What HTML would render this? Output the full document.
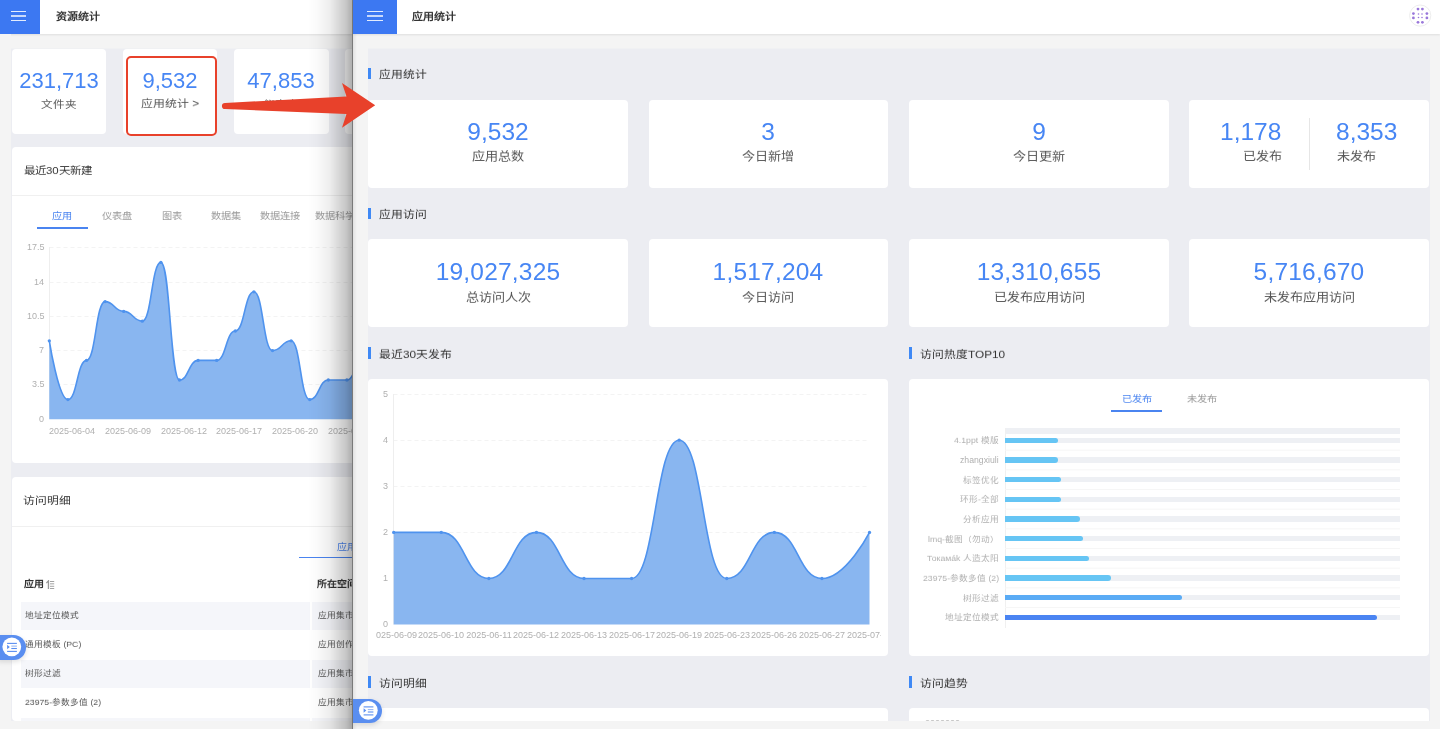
<!DOCTYPE html><html lang="zh-CN"><head><meta charset="utf-8"><style>
*{margin:0;padding:0;box-sizing:border-box}
html,body{width:1440px;height:729px;overflow:hidden;background:#f4f4f4;font-family:"Liberation Sans", sans-serif;}
.t{position:absolute;white-space:nowrap;will-change:transform;}
.r{position:absolute;}
.card{position:absolute;background:#fff;border-radius:4px;}
svg{position:absolute;left:0;top:0;}
</style></head><body>
<div class="r" style="left:0px;top:0px;width:353px;height:34px;background:#fff;box-shadow:0 1px 2px rgba(0,0,0,0.09);"></div>
<div class="r" style="left:0px;top:0px;width:40px;height:34px;background:#3c78f2;"></div>
<div class="r" style="left:10.9px;top:10.75px;width:15.200000000000001px;height:1.5px;background:rgba(255,255,255,0.86);"></div>
<div class="r" style="left:10.9px;top:15.15px;width:15.200000000000001px;height:1.4999999999999982px;background:rgba(255,255,255,0.72);"></div>
<div class="r" style="left:10.9px;top:19.55px;width:15.200000000000001px;height:1.5px;background:rgba(255,255,255,0.86);"></div>
<div class="t" style="top:11.09px;font-size:11.0px;line-height:11.0px;color:#333;transform:scaleY(0.88);transform-origin:0 9.31px;font-weight:bold;left:55.50px;">资源统计</div>
<div class="r" style="left:11px;top:49px;width:342px;height:672px;background:#ecedf2;"></div>
<div class="r" style="left:11px;top:48px;width:342px;height:1px;background:#f0f1f3;"></div>
<div class="card" style="left:12px;top:49px;width:94px;height:85px;"></div>
<div class="card" style="left:123px;top:49px;width:94px;height:85px;"></div>
<div class="card" style="left:234px;top:49px;width:95px;height:85px;"></div>
<div class="card" style="left:345px;top:49px;width:95px;height:85px;"></div>
<div class="t" style="top:69.68px;font-size:22.0px;line-height:22.0px;color:#4786f4;left:-241.00px;width:600px;text-align:center;">231,713</div>
<div class="t" style="top:98.48px;font-size:11.6px;line-height:11.6px;color:#555;transform:scaleY(0.88);transform-origin:50% 9.82px;left:-241.00px;width:600px;text-align:center;">文件夹</div>
<div class="t" style="top:69.68px;font-size:22.0px;line-height:22.0px;color:#4786f4;left:-130.00px;width:600px;text-align:center;">9,532</div>
<div class="t" style="top:98.23px;font-size:11.9px;line-height:11.9px;color:#555;transform:scaleY(0.88);transform-origin:50% 10.07px;left:-130.00px;width:600px;text-align:center;">应用统计 &gt;</div>
<div class="t" style="top:69.68px;font-size:22.0px;line-height:22.0px;color:#4786f4;left:-19.00px;width:600px;text-align:center;">47,853</div>
<div class="t" style="top:98.48px;font-size:11.6px;line-height:11.6px;color:#555;transform:scaleY(0.88);transform-origin:50% 9.82px;left:-19.00px;width:600px;text-align:center;">仪表盘</div>
<div class="t" style="top:69.68px;font-size:22.0px;line-height:22.0px;color:#4786f4;left:92.00px;width:600px;text-align:center;">12,345</div>
<div class="card" style="left:12px;top:146.5px;width:400px;height:316.5px;"></div>
<div class="t" style="top:165.11px;font-size:11.45px;line-height:11.45px;color:#333;transform:scaleY(0.88);transform-origin:0 9.69px;left:23.50px;">最近30天新建</div>
<div class="r" style="left:12px;top:195px;width:341px;height:1px;background:#f0f0f0;"></div>
<div class="t" style="top:210.87px;font-size:10.2px;line-height:10.2px;color:#4a84f0;transform:scaleY(0.88);transform-origin:0 8.63px;left:52.00px;">应用</div>
<div class="t" style="top:210.87px;font-size:10.2px;line-height:10.2px;color:#999;transform:scaleY(0.88);transform-origin:0 8.63px;left:102.00px;">仪表盘</div>
<div class="t" style="top:210.87px;font-size:10.2px;line-height:10.2px;color:#999;transform:scaleY(0.88);transform-origin:0 8.63px;left:161.70px;">图表</div>
<div class="t" style="top:210.87px;font-size:10.2px;line-height:10.2px;color:#999;transform:scaleY(0.88);transform-origin:0 8.63px;left:211.00px;">数据集</div>
<div class="t" style="top:210.87px;font-size:10.2px;line-height:10.2px;color:#999;transform:scaleY(0.88);transform-origin:0 8.63px;left:260.40px;">数据连接</div>
<div class="t" style="top:210.87px;font-size:10.2px;line-height:10.2px;color:#999;transform:scaleY(0.88);transform-origin:0 8.63px;left:314.80px;">数据科学</div>
<div class="r" style="left:37px;top:226.5px;width:51px;height:2.0px;background:#4a84f0;"></div>
<svg width="1440" height="729" style="left:0;top:0"><line x1="49.5" y1="384.5" x2="400" y2="384.5" stroke="#f3f3f3" stroke-width="1" stroke-dasharray="4,3"/><line x1="49.5" y1="350.5" x2="400" y2="350.5" stroke="#f3f3f3" stroke-width="1" stroke-dasharray="4,3"/><line x1="49.5" y1="316.5" x2="400" y2="316.5" stroke="#f3f3f3" stroke-width="1" stroke-dasharray="4,3"/><line x1="49.5" y1="282.5" x2="400" y2="282.5" stroke="#f3f3f3" stroke-width="1" stroke-dasharray="4,3"/><line x1="49.5" y1="247.5" x2="400" y2="247.5" stroke="#f3f3f3" stroke-width="1" stroke-dasharray="4,3"/><line x1="49.5" y1="247" x2="49.5" y2="419.2" stroke="#eeeeee" stroke-width="1"/><path d="M49.30,340.80 C49.30,340.80 58.60,399.60 67.90,399.60 C77.20,399.60 77.20,360.40 86.50,360.40 C95.80,360.40 95.80,301.60 105.10,301.60 C114.40,301.60 114.40,311.40 123.70,311.40 C133.00,311.40 133.00,321.20 142.30,321.20 C151.60,321.20 151.60,262.40 160.90,262.40 C170.20,262.40 170.20,380.00 179.50,380.00 C188.80,380.00 188.80,360.40 198.10,360.40 C207.40,360.40 207.40,360.40 216.70,360.40 C226.00,360.40 226.00,331.00 235.30,331.00 C244.60,331.00 244.60,291.80 253.90,291.80 C263.20,291.80 263.20,350.60 272.50,350.60 C281.80,350.60 281.80,340.80 291.10,340.80 C300.40,340.80 300.40,399.60 309.70,399.60 C319.00,399.60 319.00,380.00 328.30,380.00 C337.60,380.00 337.60,380.00 346.90,380.00 C356.20,380.00 356.20,350.60 365.50,350.60 C374.80,350.60 384.10,370.20 384.10,370.20 L384.10,419.20 L49.30,419.20 Z" fill="#89b6f0"/><path d="M49.30,340.80 C49.30,340.80 58.60,399.60 67.90,399.60 C77.20,399.60 77.20,360.40 86.50,360.40 C95.80,360.40 95.80,301.60 105.10,301.60 C114.40,301.60 114.40,311.40 123.70,311.40 C133.00,311.40 133.00,321.20 142.30,321.20 C151.60,321.20 151.60,262.40 160.90,262.40 C170.20,262.40 170.20,380.00 179.50,380.00 C188.80,380.00 188.80,360.40 198.10,360.40 C207.40,360.40 207.40,360.40 216.70,360.40 C226.00,360.40 226.00,331.00 235.30,331.00 C244.60,331.00 244.60,291.80 253.90,291.80 C263.20,291.80 263.20,350.60 272.50,350.60 C281.80,350.60 281.80,340.80 291.10,340.80 C300.40,340.80 300.40,399.60 309.70,399.60 C319.00,399.60 319.00,380.00 328.30,380.00 C337.60,380.00 337.60,380.00 346.90,380.00 C356.20,380.00 356.20,350.60 365.50,350.60 C374.80,350.60 384.10,370.20 384.10,370.20" fill="none" stroke="#4f93ee" stroke-width="1.6"/><circle cx="49.30" cy="340.80" r="1.65" fill="#4f93ee"/><circle cx="67.90" cy="399.60" r="1.65" fill="#4f93ee"/><circle cx="86.50" cy="360.40" r="1.65" fill="#4f93ee"/><circle cx="105.10" cy="301.60" r="1.65" fill="#4f93ee"/><circle cx="123.70" cy="311.40" r="1.65" fill="#4f93ee"/><circle cx="142.30" cy="321.20" r="1.65" fill="#4f93ee"/><circle cx="160.90" cy="262.40" r="1.65" fill="#4f93ee"/><circle cx="179.50" cy="380.00" r="1.65" fill="#4f93ee"/><circle cx="198.10" cy="360.40" r="1.65" fill="#4f93ee"/><circle cx="216.70" cy="360.40" r="1.65" fill="#4f93ee"/><circle cx="235.30" cy="331.00" r="1.65" fill="#4f93ee"/><circle cx="253.90" cy="291.80" r="1.65" fill="#4f93ee"/><circle cx="272.50" cy="350.60" r="1.65" fill="#4f93ee"/><circle cx="291.10" cy="340.80" r="1.65" fill="#4f93ee"/><circle cx="309.70" cy="399.60" r="1.65" fill="#4f93ee"/><circle cx="328.30" cy="380.00" r="1.65" fill="#4f93ee"/><circle cx="346.90" cy="380.00" r="1.65" fill="#4f93ee"/><circle cx="365.50" cy="350.60" r="1.65" fill="#4f93ee"/><circle cx="384.10" cy="370.20" r="1.65" fill="#4f93ee"/></svg>
<div class="t" style="top:243.28px;font-size:9.0px;line-height:9.0px;color:#b0b0b0;right:1395.50px;text-align:right;">17.5</div>
<div class="t" style="top:277.58px;font-size:9.0px;line-height:9.0px;color:#b0b0b0;right:1395.50px;text-align:right;">14</div>
<div class="t" style="top:311.88px;font-size:9.0px;line-height:9.0px;color:#b0b0b0;right:1395.50px;text-align:right;">10.5</div>
<div class="t" style="top:346.18px;font-size:9.0px;line-height:9.0px;color:#b0b0b0;right:1395.50px;text-align:right;">7</div>
<div class="t" style="top:380.48px;font-size:9.0px;line-height:9.0px;color:#b0b0b0;right:1395.50px;text-align:right;">3.5</div>
<div class="t" style="top:414.78px;font-size:9.0px;line-height:9.0px;color:#b0b0b0;right:1395.50px;text-align:right;">0</div>
<div class="t" style="top:426.58px;font-size:9.0px;line-height:9.0px;color:#b0b0b0;left:49.00px;">2025-06-04</div>
<div class="t" style="top:426.58px;font-size:9.0px;line-height:9.0px;color:#b0b0b0;left:104.80px;">2025-06-09</div>
<div class="t" style="top:426.58px;font-size:9.0px;line-height:9.0px;color:#b0b0b0;left:160.60px;">2025-06-12</div>
<div class="t" style="top:426.58px;font-size:9.0px;line-height:9.0px;color:#b0b0b0;left:216.40px;">2025-06-17</div>
<div class="t" style="top:426.58px;font-size:9.0px;line-height:9.0px;color:#b0b0b0;left:272.20px;">2025-06-20</div>
<div class="t" style="top:426.58px;font-size:9.0px;line-height:9.0px;color:#b0b0b0;left:328.00px;">2025-06-23</div>
<div class="card" style="left:12px;top:477px;width:400px;height:244px;"></div>
<div class="t" style="top:495.11px;font-size:11.8px;line-height:11.8px;color:#333;transform:scaleY(0.88);transform-origin:0 9.99px;left:23.40px;">访问明细</div>
<div class="r" style="left:12px;top:525.5px;width:341px;height:1.0px;background:#f0f0f0;"></div>
<div class="t" style="top:541.53px;font-size:10.0px;line-height:10.0px;color:#4a84f0;transform:scaleY(0.88);transform-origin:0 8.46px;left:337.00px;">应用</div>
<div class="r" style="left:299px;top:556.5px;width:54px;height:1.5px;background:#4a84f0;"></div>
<div class="t" style="top:578.83px;font-size:10.0px;line-height:10.0px;color:#333;transform:scaleY(0.88);transform-origin:0 8.46px;font-weight:bold;left:24.00px;">应用</div>
<div class="t" style="top:578.83px;font-size:10.0px;line-height:10.0px;color:#333;transform:scaleY(0.88);transform-origin:0 8.46px;font-weight:bold;left:317.00px;">所在空间</div>
<svg width="1440" height="729"><g fill="#999"><path d="M46,582.6 L48.4,580 L49.1,580 L49.1,589 L47.8,589 L47.8,582.4 L46.6,583.6 Z"/><rect x="50" y="581" width="4.2" height="0.9"/><rect x="50" y="583.4" width="4.2" height="0.9"/><rect x="50" y="585.8" width="4.2" height="0.9"/><rect x="50" y="588.1" width="4.2" height="0.9"/></g></svg>
<div class="r" style="left:21px;top:602px;width:289.4px;height:28px;background:#f5f6fa;"></div>
<div class="r" style="left:311.8px;top:602px;width:41.19999999999999px;height:28px;background:#f5f6fa;"></div>
<div class="r" style="left:21px;top:660px;width:289.4px;height:28px;background:#f5f6fa;"></div>
<div class="r" style="left:311.8px;top:660px;width:41.19999999999999px;height:28px;background:#f5f6fa;"></div>
<div class="r" style="left:21px;top:718px;width:289.4px;height:28px;background:#f5f6fa;"></div>
<div class="r" style="left:311.8px;top:718px;width:41.19999999999999px;height:28px;background:#f5f6fa;"></div>
<div class="t" style="top:611.14px;font-size:8.7px;line-height:8.7px;color:#555;transform:scaleY(0.88);transform-origin:0 7.36px;left:25.00px;">地址定位模式</div>
<div class="t" style="top:611.14px;font-size:8.7px;line-height:8.7px;color:#555;transform:scaleY(0.88);transform-origin:0 7.36px;left:317.50px;">应用集市</div>
<div class="t" style="top:640.14px;font-size:8.7px;line-height:8.7px;color:#555;transform:scaleY(0.88);transform-origin:0 7.36px;left:25.00px;">通用模板 (PC)</div>
<div class="t" style="top:640.14px;font-size:8.7px;line-height:8.7px;color:#555;transform:scaleY(0.88);transform-origin:0 7.36px;left:317.50px;">应用创作</div>
<div class="t" style="top:669.14px;font-size:8.7px;line-height:8.7px;color:#555;transform:scaleY(0.88);transform-origin:0 7.36px;left:25.00px;">树形过滤</div>
<div class="t" style="top:669.14px;font-size:8.7px;line-height:8.7px;color:#555;transform:scaleY(0.88);transform-origin:0 7.36px;left:317.50px;">应用集市</div>
<div class="t" style="top:698.14px;font-size:8.7px;line-height:8.7px;color:#555;transform:scaleY(0.88);transform-origin:0 7.36px;left:25.00px;">23975-参数多值 (2)</div>
<div class="t" style="top:698.14px;font-size:8.7px;line-height:8.7px;color:#555;transform:scaleY(0.88);transform-origin:0 7.36px;left:317.50px;">应用集市</div>
<div class="r" style="left:0px;top:721px;width:353px;height:8px;background:#f4f4f4;"></div>
<div class="r" style="left:0px;top:34px;width:11px;height:695px;background:#f4f4f4;"></div>
<div class="r" style="left:300px;top:0;width:52px;height:729px;background:linear-gradient(to right,rgba(0,0,0,0) 0.0%,rgba(0,0,0,0.0) 15.4%,rgba(0,0,0,0.018) 34.6%,rgba(0,0,0,0.072) 57.7%,rgba(0,0,0,0.165) 76.9%,rgba(0,0,0,0.22) 88.5%,rgba(0,0,0,0.285) 96.2%,rgba(0,0,0,0.31) 100.0%);"></div>
<div class="r" style="left:352px;top:0px;width:1px;height:729px;background:#7a7a7a;"></div>
<div class="r" style="left:353px;top:0px;width:1087px;height:729px;background:#f4f4f4;"></div>
<div class="r" style="left:353px;top:0px;width:1087px;height:34px;background:#fff;box-shadow:0 1px 2px rgba(0,0,0,0.09);"></div>
<div class="r" style="left:353px;top:0px;width:44px;height:34px;background:#3c78f2;"></div>
<div class="r" style="left:367.1px;top:10.75px;width:15.799999999999955px;height:1.5px;background:rgba(255,255,255,0.86);"></div>
<div class="r" style="left:367.1px;top:15.15px;width:15.799999999999955px;height:1.4999999999999982px;background:rgba(255,255,255,0.72);"></div>
<div class="r" style="left:367.1px;top:19.55px;width:15.799999999999955px;height:1.5px;background:rgba(255,255,255,0.86);"></div>
<div class="t" style="top:11.09px;font-size:11.0px;line-height:11.0px;color:#333;transform:scaleY(0.88);transform-origin:0 9.31px;font-weight:bold;left:411.50px;">应用统计</div>
<div class="r" style="left:368px;top:49px;width:1061.5px;height:672px;background:#ecedf2;"></div>
<div class="r" style="left:368px;top:48px;width:1061.5px;height:1px;background:#f0f1f3;"></div>
<div class="r" style="left:368px;top:67.6px;width:3px;height:11.400000000000006px;background:#3f89f5;"></div>
<div class="t" style="top:68.81px;font-size:11.8px;line-height:11.8px;color:#333;transform:scaleY(0.92);transform-origin:0 9.99px;left:379.30px;">应用统计</div>
<div class="r" style="left:368px;top:207.60000000000002px;width:3px;height:11.399999999999977px;background:#3f89f5;"></div>
<div class="t" style="top:208.81px;font-size:11.8px;line-height:11.8px;color:#333;transform:scaleY(0.92);transform-origin:0 9.99px;left:379.30px;">应用访问</div>
<div class="r" style="left:368px;top:347.3px;width:3px;height:11.399999999999977px;background:#3f89f5;"></div>
<div class="t" style="top:348.51px;font-size:11.8px;line-height:11.8px;color:#333;transform:scaleY(0.92);transform-origin:0 9.99px;left:379.30px;">最近30天发布</div>
<div class="r" style="left:909px;top:347.3px;width:3px;height:11.399999999999977px;background:#3f89f5;"></div>
<div class="t" style="top:348.51px;font-size:11.8px;line-height:11.8px;color:#333;transform:scaleY(0.92);transform-origin:0 9.99px;left:920.30px;">访问热度TOP10</div>
<div class="r" style="left:368px;top:676.3px;width:3px;height:11.400000000000091px;background:#3f89f5;"></div>
<div class="t" style="top:677.51px;font-size:11.8px;line-height:11.8px;color:#333;transform:scaleY(0.92);transform-origin:0 9.99px;left:379.30px;">访问明细</div>
<div class="r" style="left:909px;top:676.3px;width:3px;height:11.400000000000091px;background:#3f89f5;"></div>
<div class="t" style="top:677.51px;font-size:11.8px;line-height:11.8px;color:#333;transform:scaleY(0.92);transform-origin:0 9.99px;left:920.30px;">访问趋势</div>
<div class="card" style="left:368px;top:99.5px;width:259.5px;height:88px;"></div>
<div class="t" style="top:120.26px;font-size:24.5px;line-height:24.5px;color:#4786f4;letter-spacing:0px;left:197.75px;width:600px;text-align:center;">9,532</div>
<div class="t" style="top:149.41px;font-size:13.1px;line-height:13.1px;color:#555;transform:scaleY(0.84);transform-origin:50% 11.09px;left:197.75px;width:600px;text-align:center;">应用总数</div>
<div class="card" style="left:648.5px;top:99.5px;width:239.5px;height:88px;"></div>
<div class="t" style="top:120.26px;font-size:24.5px;line-height:24.5px;color:#4786f4;letter-spacing:0px;left:468.25px;width:600px;text-align:center;">3</div>
<div class="t" style="top:149.41px;font-size:13.1px;line-height:13.1px;color:#555;transform:scaleY(0.84);transform-origin:50% 11.09px;left:468.25px;width:600px;text-align:center;">今日新增</div>
<div class="card" style="left:909px;top:99.5px;width:259.5px;height:88px;"></div>
<div class="t" style="top:120.26px;font-size:24.5px;line-height:24.5px;color:#4786f4;letter-spacing:0px;left:738.75px;width:600px;text-align:center;">9</div>
<div class="t" style="top:149.41px;font-size:13.1px;line-height:13.1px;color:#555;transform:scaleY(0.84);transform-origin:50% 11.09px;left:738.75px;width:600px;text-align:center;">今日更新</div>
<div class="card" style="left:1189px;top:99.5px;width:240px;height:88px;"></div>
<div class="t" style="top:120.26px;font-size:24.5px;line-height:24.5px;color:#4786f4;right:159.00px;text-align:right;">1,178</div>
<div class="t" style="top:149.41px;font-size:13.1px;line-height:13.1px;color:#555;transform:scaleY(0.84);transform-origin:100% 11.09px;right:158.50px;text-align:right;">已发布</div>
<div class="t" style="top:120.26px;font-size:24.5px;line-height:24.5px;color:#4786f4;left:1336.40px;">8,353</div>
<div class="t" style="top:149.41px;font-size:13.1px;line-height:13.1px;color:#555;transform:scaleY(0.84);transform-origin:0 11.09px;left:1336.90px;">未发布</div>
<div class="r" style="left:1309px;top:118.4px;width:1px;height:52.099999999999994px;background:#e6e6e6;"></div>
<div class="card" style="left:368px;top:239px;width:259.5px;height:88px;"></div>
<div class="t" style="top:259.76px;font-size:24.5px;line-height:24.5px;color:#4786f4;letter-spacing:0.2px;left:197.75px;width:600px;text-align:center;">19,027,325</div>
<div class="t" style="top:290.31px;font-size:13.1px;line-height:13.1px;color:#555;transform:scaleY(0.84);transform-origin:50% 11.09px;left:197.75px;width:600px;text-align:center;">总访问人次</div>
<div class="card" style="left:648.5px;top:239px;width:239.5px;height:88px;"></div>
<div class="t" style="top:259.76px;font-size:24.5px;line-height:24.5px;color:#4786f4;letter-spacing:0.2px;left:468.25px;width:600px;text-align:center;">1,517,204</div>
<div class="t" style="top:290.31px;font-size:13.1px;line-height:13.1px;color:#555;transform:scaleY(0.84);transform-origin:50% 11.09px;left:468.25px;width:600px;text-align:center;">今日访问</div>
<div class="card" style="left:909px;top:239px;width:259.5px;height:88px;"></div>
<div class="t" style="top:259.76px;font-size:24.5px;line-height:24.5px;color:#4786f4;letter-spacing:0.2px;left:738.75px;width:600px;text-align:center;">13,310,655</div>
<div class="t" style="top:290.31px;font-size:13.1px;line-height:13.1px;color:#555;transform:scaleY(0.84);transform-origin:50% 11.09px;left:738.75px;width:600px;text-align:center;">已发布应用访问</div>
<div class="card" style="left:1189px;top:239px;width:240px;height:88px;"></div>
<div class="t" style="top:259.76px;font-size:24.5px;line-height:24.5px;color:#4786f4;letter-spacing:0.2px;left:1009.00px;width:600px;text-align:center;">5,716,670</div>
<div class="t" style="top:290.31px;font-size:13.1px;line-height:13.1px;color:#555;transform:scaleY(0.84);transform-origin:50% 11.09px;left:1009.00px;width:600px;text-align:center;">未发布应用访问</div>
<div class="card" style="left:368px;top:379px;width:520px;height:277px;"></div>
<div class="card" style="left:909px;top:379px;width:520px;height:277px;"></div>
<div class="card" style="left:368px;top:708px;width:520px;height:60px;"></div>
<div class="card" style="left:909px;top:708px;width:520px;height:60px;"></div>
<svg width="1440" height="729"><line x1="393.5" y1="578.5" x2="869.5" y2="578.5" stroke="#f3f3f3" stroke-width="1" stroke-dasharray="4,3"/><line x1="393.5" y1="532.5" x2="869.5" y2="532.5" stroke="#f3f3f3" stroke-width="1" stroke-dasharray="4,3"/><line x1="393.5" y1="486.5" x2="869.5" y2="486.5" stroke="#f3f3f3" stroke-width="1" stroke-dasharray="4,3"/><line x1="393.5" y1="440.5" x2="869.5" y2="440.5" stroke="#f3f3f3" stroke-width="1" stroke-dasharray="4,3"/><line x1="393.5" y1="394.5" x2="869.5" y2="394.5" stroke="#f3f3f3" stroke-width="1" stroke-dasharray="4,3"/><line x1="393.5" y1="394" x2="393.5" y2="624.6" stroke="#eeeeee" stroke-width="1"/><path d="M393.70,532.40 C393.70,532.40 417.49,532.40 441.28,532.40 C465.07,532.40 465.07,578.50 488.86,578.50 C512.65,578.50 512.65,532.40 536.44,532.40 C560.23,532.40 560.23,578.50 584.02,578.50 C607.81,578.50 607.81,578.50 631.60,578.50 C655.39,578.50 655.39,440.20 679.18,440.20 C702.97,440.20 702.97,578.50 726.76,578.50 C750.55,578.50 750.55,532.40 774.34,532.40 C798.13,532.40 798.13,578.50 821.92,578.50 C845.71,578.50 869.50,532.40 869.50,532.40 L869.50,624.60 L393.70,624.60 Z" fill="#89b6f0"/><path d="M393.70,532.40 C393.70,532.40 417.49,532.40 441.28,532.40 C465.07,532.40 465.07,578.50 488.86,578.50 C512.65,578.50 512.65,532.40 536.44,532.40 C560.23,532.40 560.23,578.50 584.02,578.50 C607.81,578.50 607.81,578.50 631.60,578.50 C655.39,578.50 655.39,440.20 679.18,440.20 C702.97,440.20 702.97,578.50 726.76,578.50 C750.55,578.50 750.55,532.40 774.34,532.40 C798.13,532.40 798.13,578.50 821.92,578.50 C845.71,578.50 869.50,532.40 869.50,532.40" fill="none" stroke="#4f93ee" stroke-width="1.6"/><circle cx="393.70" cy="532.40" r="1.65" fill="#4f93ee"/><circle cx="441.28" cy="532.40" r="1.65" fill="#4f93ee"/><circle cx="488.86" cy="578.50" r="1.65" fill="#4f93ee"/><circle cx="536.44" cy="532.40" r="1.65" fill="#4f93ee"/><circle cx="584.02" cy="578.50" r="1.65" fill="#4f93ee"/><circle cx="631.60" cy="578.50" r="1.65" fill="#4f93ee"/><circle cx="679.18" cy="440.20" r="1.65" fill="#4f93ee"/><circle cx="726.76" cy="578.50" r="1.65" fill="#4f93ee"/><circle cx="774.34" cy="532.40" r="1.65" fill="#4f93ee"/><circle cx="821.92" cy="578.50" r="1.65" fill="#4f93ee"/><circle cx="869.50" cy="532.40" r="1.65" fill="#4f93ee"/></svg>
<div class="t" style="top:620.18px;font-size:9.0px;line-height:9.0px;color:#b0b0b0;right:1052.00px;text-align:right;">0</div>
<div class="t" style="top:574.08px;font-size:9.0px;line-height:9.0px;color:#b0b0b0;right:1052.00px;text-align:right;">1</div>
<div class="t" style="top:527.98px;font-size:9.0px;line-height:9.0px;color:#b0b0b0;right:1052.00px;text-align:right;">2</div>
<div class="t" style="top:481.88px;font-size:9.0px;line-height:9.0px;color:#b0b0b0;right:1052.00px;text-align:right;">3</div>
<div class="t" style="top:435.78px;font-size:9.0px;line-height:9.0px;color:#b0b0b0;right:1052.00px;text-align:right;">4</div>
<div class="t" style="top:389.68px;font-size:9.0px;line-height:9.0px;color:#b0b0b0;right:1052.00px;text-align:right;">5</div>
<div class="r" style="left:376px;top:620px;width:505px;height:30px;overflow:hidden;">
<div class="t" style="left:-82.30px;width:200px;text-align:center;top:11.38px;font-size:9px;line-height:9px;color:#b0b0b0;">2025-06-09</div>
<div class="t" style="left:-34.72px;width:200px;text-align:center;top:11.38px;font-size:9px;line-height:9px;color:#b0b0b0;">2025-06-10</div>
<div class="t" style="left:12.86px;width:200px;text-align:center;top:11.38px;font-size:9px;line-height:9px;color:#b0b0b0;">2025-06-11</div>
<div class="t" style="left:60.44px;width:200px;text-align:center;top:11.38px;font-size:9px;line-height:9px;color:#b0b0b0;">2025-06-12</div>
<div class="t" style="left:108.02px;width:200px;text-align:center;top:11.38px;font-size:9px;line-height:9px;color:#b0b0b0;">2025-06-13</div>
<div class="t" style="left:155.60px;width:200px;text-align:center;top:11.38px;font-size:9px;line-height:9px;color:#b0b0b0;">2025-06-17</div>
<div class="t" style="left:203.18px;width:200px;text-align:center;top:11.38px;font-size:9px;line-height:9px;color:#b0b0b0;">2025-06-19</div>
<div class="t" style="left:250.76px;width:200px;text-align:center;top:11.38px;font-size:9px;line-height:9px;color:#b0b0b0;">2025-06-23</div>
<div class="t" style="left:298.34px;width:200px;text-align:center;top:11.38px;font-size:9px;line-height:9px;color:#b0b0b0;">2025-06-26</div>
<div class="t" style="left:345.92px;width:200px;text-align:center;top:11.38px;font-size:9px;line-height:9px;color:#b0b0b0;">2025-06-27</div>
<div class="t" style="left:393.50px;width:200px;text-align:center;top:11.38px;font-size:9px;line-height:9px;color:#b0b0b0;">2025-07-01</div>
</div>
<div class="t" style="top:393.97px;font-size:10.2px;line-height:10.2px;color:#4a84f0;transform:scaleY(0.88);transform-origin:50% 8.63px;left:836.50px;width:600px;text-align:center;">已发布</div>
<div class="t" style="top:393.97px;font-size:10.2px;line-height:10.2px;color:#999;transform:scaleY(0.88);transform-origin:50% 8.63px;left:901.60px;width:600px;text-align:center;">未发布</div>
<div class="r" style="left:1110.8px;top:410px;width:51.200000000000045px;height:2px;background:#4a84f0;"></div>
<div class="r" style="left:1005px;top:428px;width:395px;height:6px;background:#eef0f4;"></div>
<svg width="1440" height="729"><line x1="1005.5" y1="428" x2="1005.5" y2="628" stroke="#f0f0f0" stroke-width="1"/><line x1="1005" y1="450.2" x2="1400" y2="450.2" stroke="#f6f6f6" stroke-width="1"/><line x1="1005" y1="469.9" x2="1400" y2="469.9" stroke="#f6f6f6" stroke-width="1"/><line x1="1005" y1="489.5" x2="1400" y2="489.5" stroke="#f6f6f6" stroke-width="1"/><line x1="1005" y1="509.2" x2="1400" y2="509.2" stroke="#f6f6f6" stroke-width="1"/><line x1="1005" y1="528.9" x2="1400" y2="528.9" stroke="#f6f6f6" stroke-width="1"/><line x1="1005" y1="548.5" x2="1400" y2="548.5" stroke="#f6f6f6" stroke-width="1"/><line x1="1005" y1="568.2" x2="1400" y2="568.2" stroke="#f6f6f6" stroke-width="1"/><line x1="1005" y1="587.9" x2="1400" y2="587.9" stroke="#f6f6f6" stroke-width="1"/><line x1="1005" y1="607.5" x2="1400" y2="607.5" stroke="#f6f6f6" stroke-width="1"/></svg>
<div class="r" style="left:1005px;top:437.75px;width:395px;height:5.300000000000011px;background:#eef0f4;"></div>
<div class="r" style="left:1005px;top:437.75px;width:52.7px;height:5.3px;background:#66c5f4;border-radius:0 3px 3px 0;"></div>
<div class="t" style="top:436.44px;font-size:8.7px;line-height:8.7px;color:#b0b0b0;transform:scaleY(0.88);transform-origin:100% 7.36px;right:441.20px;text-align:right;">4.1ppt 模版</div>
<div class="r" style="left:1005px;top:457.41px;width:395px;height:5.2999999999999545px;background:#eef0f4;"></div>
<div class="r" style="left:1005px;top:457.41px;width:52.7px;height:5.3px;background:#66c5f4;border-radius:0 3px 3px 0;"></div>
<div class="t" style="top:456.10px;font-size:8.7px;line-height:8.7px;color:#b0b0b0;right:441.20px;text-align:right;">zhangxiuli</div>
<div class="r" style="left:1005px;top:477.07px;width:395px;height:5.300000000000011px;background:#eef0f4;"></div>
<div class="r" style="left:1005px;top:477.07px;width:55.5px;height:5.3px;background:#66c5f4;border-radius:0 3px 3px 0;"></div>
<div class="t" style="top:475.76px;font-size:8.7px;line-height:8.7px;color:#b0b0b0;transform:scaleY(0.88);transform-origin:100% 7.36px;right:441.20px;text-align:right;">标签优化</div>
<div class="r" style="left:1005px;top:496.73px;width:395px;height:5.2999999999999545px;background:#eef0f4;"></div>
<div class="r" style="left:1005px;top:496.73px;width:55.5px;height:5.3px;background:#66c5f4;border-radius:0 3px 3px 0;"></div>
<div class="t" style="top:495.42px;font-size:8.7px;line-height:8.7px;color:#b0b0b0;transform:scaleY(0.88);transform-origin:100% 7.36px;right:441.20px;text-align:right;">环形-全部</div>
<div class="r" style="left:1005px;top:516.39px;width:395px;height:5.300000000000068px;background:#eef0f4;"></div>
<div class="r" style="left:1005px;top:516.39px;width:74.5px;height:5.3px;background:#66c5f4;border-radius:0 3px 3px 0;"></div>
<div class="t" style="top:515.08px;font-size:8.7px;line-height:8.7px;color:#b0b0b0;transform:scaleY(0.88);transform-origin:100% 7.36px;right:441.20px;text-align:right;">分析应用</div>
<div class="r" style="left:1005px;top:536.05px;width:395px;height:5.300000000000068px;background:#eef0f4;"></div>
<div class="r" style="left:1005px;top:536.05px;width:77.7px;height:5.3px;background:#66c5f4;border-radius:0 3px 3px 0;"></div>
<div class="t" style="top:534.74px;font-size:8.7px;line-height:8.7px;color:#b0b0b0;transform:scaleY(0.88);transform-origin:100% 7.36px;right:441.20px;text-align:right;">lmq-截图（勿动）</div>
<div class="r" style="left:1005px;top:555.71px;width:395px;height:5.2999999999999545px;background:#eef0f4;"></div>
<div class="r" style="left:1005px;top:555.71px;width:83.5px;height:5.3px;background:#66c5f4;border-radius:0 3px 3px 0;"></div>
<div class="t" style="top:554.40px;font-size:8.7px;line-height:8.7px;color:#b0b0b0;transform:scaleY(0.88);transform-origin:100% 7.36px;right:441.20px;text-align:right;">Токамák 人造太阳</div>
<div class="r" style="left:1005px;top:575.37px;width:395px;height:5.2999999999999545px;background:#eef0f4;"></div>
<div class="r" style="left:1005px;top:575.37px;width:106.0px;height:5.3px;background:#66c5f4;border-radius:0 3px 3px 0;"></div>
<div class="t" style="top:574.06px;font-size:8.7px;line-height:8.7px;color:#b0b0b0;transform:scaleY(0.88);transform-origin:100% 7.36px;right:441.20px;text-align:right;">23975-参数多值 (2)</div>
<div class="r" style="left:1005px;top:595.03px;width:395px;height:5.300000000000068px;background:#eef0f4;"></div>
<div class="r" style="left:1005px;top:595.03px;width:177.3px;height:5.3px;background:#5aabf5;border-radius:0 3px 3px 0;"></div>
<div class="t" style="top:593.72px;font-size:8.7px;line-height:8.7px;color:#b0b0b0;transform:scaleY(0.88);transform-origin:100% 7.36px;right:441.20px;text-align:right;">树形过滤</div>
<div class="r" style="left:1005px;top:614.69px;width:395px;height:5.2999999999999545px;background:#eef0f4;"></div>
<div class="r" style="left:1005px;top:614.69px;width:372.4px;height:5.3px;background:#4a84f2;border-radius:0 3px 3px 0;"></div>
<div class="t" style="top:613.38px;font-size:8.7px;line-height:8.7px;color:#b0b0b0;transform:scaleY(0.88);transform-origin:100% 7.36px;right:441.20px;text-align:right;">地址定位模式</div>
<div class="t" style="top:718.58px;font-size:9.0px;line-height:9.0px;color:#bbb;left:925.00px;">2000000</div>
<div class="r" style="left:353px;top:721px;width:1087px;height:8px;background:#f4f4f4;"></div>
<svg width="1440" height="729"><circle cx="1420.2" cy="15.6" r="10.6" fill="#fff" stroke="#e8e8e8" stroke-width="0.8"/>
<g fill="#9a78da">
<circle cx="1418" cy="9.1" r="1.4"/><circle cx="1422.4" cy="9.1" r="1.4"/>
<circle cx="1413.4" cy="13.6" r="1.4"/><circle cx="1426.9" cy="13.6" r="1.4"/>
<circle cx="1413.4" cy="17.9" r="1.4"/><circle cx="1426.9" cy="17.9" r="1.4"/>
<circle cx="1418" cy="22.3" r="1.4"/><circle cx="1422.4" cy="22.3" r="1.4"/>
<circle cx="1418.5" cy="14" r="0.8"/><circle cx="1422" cy="14" r="0.8"/>
<circle cx="1418.5" cy="17.5" r="0.8"/><circle cx="1422" cy="17.5" r="0.8"/>
</g></svg>
<div class="r" style="left:353px;top:34px;width:4px;height:695px;background:linear-gradient(to right,rgba(0,0,0,0.07),rgba(0,0,0,0));"></div>
<div class="r" style="left:-2px;top:635.3px;width:27.7px;height:24.5px;background:#5a8ef0;border-radius:0 12.25px 12.25px 0;box-shadow:0 2px 5px rgba(0,0,0,0.12);"></div>
<svg width="1440" height="729"><circle cx="11.8" cy="646.8" r="9.4" fill="#fff"/>
<g stroke="#5a8ef0" stroke-width="1.1"><line x1="7.1000000000000005" y1="643.4" x2="16.9" y2="643.4"/><line x1="11.3" y1="646.0999999999999" x2="16.9" y2="646.0999999999999" stroke="#9ab8f3"/><line x1="11.3" y1="648.5" x2="16.9" y2="648.5"/><line x1="7.1000000000000005" y1="651.4" x2="16.9" y2="651.4"/></g>
<path d="M7.1000000000000005,644.8 L9.8,647.0999999999999 L7.1000000000000005,649.1999999999999 Z" fill="#5a8ef0"/></svg>
<div class="r" style="left:353px;top:698.8px;width:29px;height:24.40000000000009px;background:#5a8ef0;border-radius:0 12.200000000000045px 12.200000000000045px 0;box-shadow:0 2px 5px rgba(0,0,0,0.12);"></div>
<svg width="1440" height="729"><circle cx="368.3" cy="710.3" r="9.4" fill="#fff"/>
<g stroke="#5a8ef0" stroke-width="1.1"><line x1="363.6" y1="706.9" x2="373.40000000000003" y2="706.9"/><line x1="367.8" y1="709.5999999999999" x2="373.40000000000003" y2="709.5999999999999" stroke="#9ab8f3"/><line x1="367.8" y1="712.0" x2="373.40000000000003" y2="712.0"/><line x1="363.6" y1="714.9" x2="373.40000000000003" y2="714.9"/></g>
<path d="M363.6,708.3 L366.3,710.5999999999999 L363.6,712.6999999999999 Z" fill="#5a8ef0"/></svg>
<div class="r" style="left:126.2px;top:55.7px;width:90.6px;height:80.1px;border:2px solid #e8412b;border-radius:5px;"></div>
<svg width="1440" height="729"><path d="M225,102.9 L346.5,96.6 L342,83 L375.2,105.3 L342,127.8 L346.5,113.9 L225,109.1 A3.1,3.1 0 0 1 225,102.9 Z" fill="#e8412b"/></svg>
</body></html>
